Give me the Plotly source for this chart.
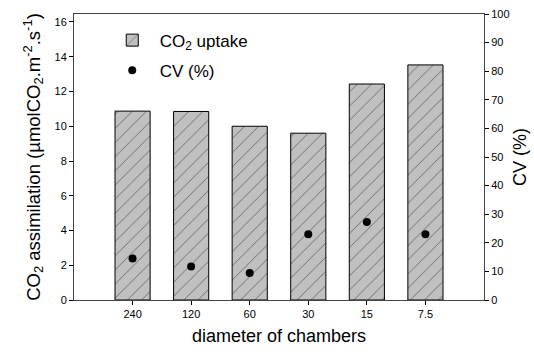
import plotly.graph_objects as go

categories = ["240", "120", "60", "30", "15", "7.5"]
co2_uptake = [10.87, 10.85, 10.0, 9.6, 12.43, 13.53]
cv_percent = [14.5, 11.7, 9.4, 23.0, 27.3, 23.0]
left_ticks = [0, 2, 4, 6, 8, 10, 12, 14, 16]
right_ticks = [0, 10, 20, 30, 40, 50, 60, 70, 80, 90, 100]

FONT = "Arial, Liberation Sans, sans-serif"
xpos = list(range(len(categories)))

fig = go.Figure()
fig.add_trace(go.Bar(
    x=xpos, y=co2_uptake, name="CO<sub>2</sub> uptake", width=0.6, legendgroup="a",
    marker=dict(color="#c0c0c0", line=dict(color="black", width=1),
                pattern=dict(shape="/", fgcolor="black", bgcolor="#c0c0c0",
                             size=10, solidity=0.08)),
))
fig.add_trace(go.Scatter(
    x=xpos, y=cv_percent, name="CV (%)", mode="markers", yaxis="y2", legendgroup="b",
    marker=dict(color="black", size=8, symbol="circle"),
))

fig.update_layout(
    width=534, height=354,
    margin=dict(l=74, r=50, t=14, b=54, autoexpand=False),
    plot_bgcolor="white", paper_bgcolor="white",
    font=dict(family=FONT, color="black"),
    showlegend=True,
    legend=dict(x=0.075, y=0.97, xanchor="left", yanchor="top",
                font=dict(size=17, family=FONT), bgcolor="rgba(0,0,0,0)",
                itemwidth=45, tracegroupgap=5),
    xaxis=dict(
        range=[-1, 6], tickmode="array", tickvals=xpos, ticktext=categories,
        ticks="outside", ticklen=4, tickcolor="black",
        showline=True, linecolor="#444", linewidth=1, mirror=True,
        showgrid=False, zeroline=False, automargin=False,
        tickfont=dict(size=11),
        title=dict(text="diameter of chambers", font=dict(size=18), standoff=10),
    ),
    yaxis=dict(
        range=[0, 16.46], tickvals=left_ticks,
        ticks="outside", ticklen=4, tickcolor="black",
        showline=True, linecolor="#444", linewidth=1,
        showgrid=False, zeroline=False, automargin=False,
        tickfont=dict(size=11),
        title=dict(text="CO<sub>2</sub> assimilation (µmolCO<sub>2</sub>.m<sup>-2</sup>.s<sup>-1</sup>)",
                   font=dict(size=18.5), standoff=9),
    ),
    yaxis2=dict(
        range=[0, 100], tickvals=right_ticks, overlaying="y", side="right",
        ticks="outside", ticklen=4, tickcolor="black",
        showline=True, linecolor="#444", linewidth=1,
        showgrid=False, zeroline=False, automargin=False,
        tickfont=dict(size=11),
        title=dict(text="CV (%)", font=dict(size=18), standoff=4),
    ),
    bargap=0.4,
)

fig.write_html("out.html", config={"displayModeBar": False},
               post_script="document.body.style.margin='0';")
